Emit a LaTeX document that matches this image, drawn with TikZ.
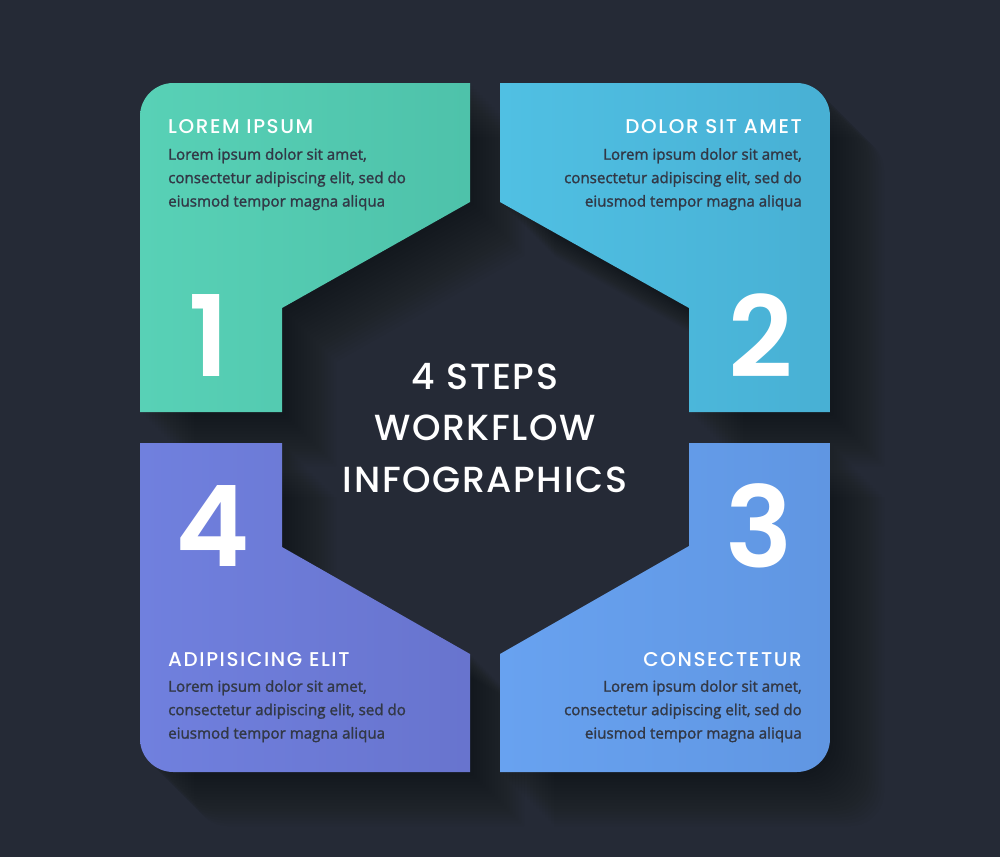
\documentclass[tikz,border=0pt]{standalone}
\usepackage{fontspec}
\usepackage{tikz}
\usetikzlibrary{positioning}
\newfontfamily\headfont{Poppins Medium}
\newfontfamily\numfont{Poppins SemiBold}
\newfontfamily\bodyfont{Open Sans}[FakeBold=1.6]
\definecolor{FondoOscuro}{RGB}{37,42,54}
\definecolor{TextoOscuro}{RGB}{50,56,70}
\definecolor{VerdeMar}{RGB}{88,209,182}
\definecolor{VerdeMarOsc}{RGB}{78,194,170}
\definecolor{AzulCielo}{RGB}{80,192,227}
\definecolor{AzulCieloOsc}{RGB}{72,176,212}
\definecolor{AzulClaro}{RGB}{104,162,240}
\definecolor{AzulClaroOsc}{RGB}{96,150,226}
\definecolor{Lavanda}{RGB}{112,128,222}
\definecolor{LavandaOsc}{RGB}{104,116,206}

% contornos de los pasos
\newcommand{\pasoUno}{(140,412) [rounded corners=1cm] -- (140,83) [sharp corners] -- (470,83) -- (470,202) -- (282,308) -- (282,412) -- cycle}
\newcommand{\pasoDos}{(500,83) [rounded corners=1cm] -- (830,83) [sharp corners] -- (830,412) -- (689,412) -- (689,308) -- (500,202) -- cycle}
\newcommand{\pasoTres}{(830,443) [rounded corners=1cm] -- (830,772) [sharp corners] -- (500,772) -- (500,654) -- (689,546) -- (689,443) -- cycle}
\newcommand{\pasoCuatro}{(470,772) [rounded corners=1cm] -- (140,772) [sharp corners] -- (140,443) -- (282,443) -- (282,547) -- (470,654) -- cycle}

\begin{document}
\begin{tikzpicture}[x=0.03cm, y=-0.03cm,
    titulo/.style={font=\headfont\fontsize{17}{20}\selectfont\addfontfeature{LetterSpace=8}, text=white, inner sep=0pt},
    cuerpo/.style={font=\bodyfont\fontsize{12.9}{20}\selectfont, text=TextoOscuro, inner sep=0pt},
    numero/.style={font=\numfont\fontsize{96}{100}\selectfont, text=white, inner sep=0pt},
    sombra/.style={black, opacity=0.025}]
    \useasboundingbox (0,0) rectangle (1000,857);
    \fill[FondoOscuro] (0,0) rectangle (1000,857);

    % Sombras largas
    \foreach \k in {1,...,18} {
        \fill[sombra, shift={(3*\k,3*\k)}] \pasoUno;
        \fill[sombra, shift={(3*\k,3*\k)}] \pasoDos;
        \fill[sombra, shift={(3*\k,3*\k)}] \pasoTres;
        \fill[sombra, shift={(3*\k,3*\k)}] \pasoCuatro;
    }

    % Paso 1
    \shade[left color=VerdeMar, right color=VerdeMarOsc] \pasoUno;
    \node[titulo, anchor=base west] (tit1) at (168,133) {LOREM IPSUM};
    \node[cuerpo, anchor=north west, align=left] (txt1) at (168,148)
        {Lorem ipsum dolor sit amet,\\consectetur adipiscing elit, sed do\\eiusmod tempor magna aliqua};
    \node[numero] (num1) at (209,335) {1};

    % Paso 2
    \shade[left color=AzulCielo, right color=AzulCieloOsc] \pasoDos;
    \node[titulo, anchor=base east] (tit2) at (802,133) {DOLOR SIT AMET};
    \node[cuerpo, anchor=north east, align=right] (txt2) at (802,148)
        {Lorem ipsum dolor sit amet,\\consectetur adipiscing elit, sed do\\eiusmod tempor magna aliqua};
    \node[numero] (num2) at (761,336) {2};

    % Paso 3
    \shade[left color=AzulClaro, right color=AzulClaroOsc] \pasoTres;
    \node[titulo, anchor=base east] (tit3) at (802,666) {CONSECTETUR};
    \node[cuerpo, anchor=north east, align=right] (txt3) at (802,680)
        {Lorem ipsum dolor sit amet,\\consectetur adipiscing elit, sed do\\eiusmod tempor magna aliqua};
    \node[numero] (num3) at (759,526) {3};

    % Paso 4
    \shade[left color=Lavanda, right color=LavandaOsc] \pasoCuatro;
    \node[titulo, anchor=base west] (tit4) at (168,666) {ADIPISICING ELIT};
    \node[cuerpo, anchor=north west, align=left] (txt4) at (168,680)
        {Lorem ipsum dolor sit amet,\\consectetur adipiscing elit, sed do\\eiusmod tempor magna aliqua};
    \node[numero] (num4) at (213,526) {4};

    % Titulo central
    \node[font=\headfont\fontsize{31}{44}\selectfont\addfontfeature{LetterSpace=4.5}, text=white, align=center] (centro) at (485,428)
        {4 STEPS\\WORKFLOW\\INFOGRAPHICS};
\end{tikzpicture}
\end{document}
